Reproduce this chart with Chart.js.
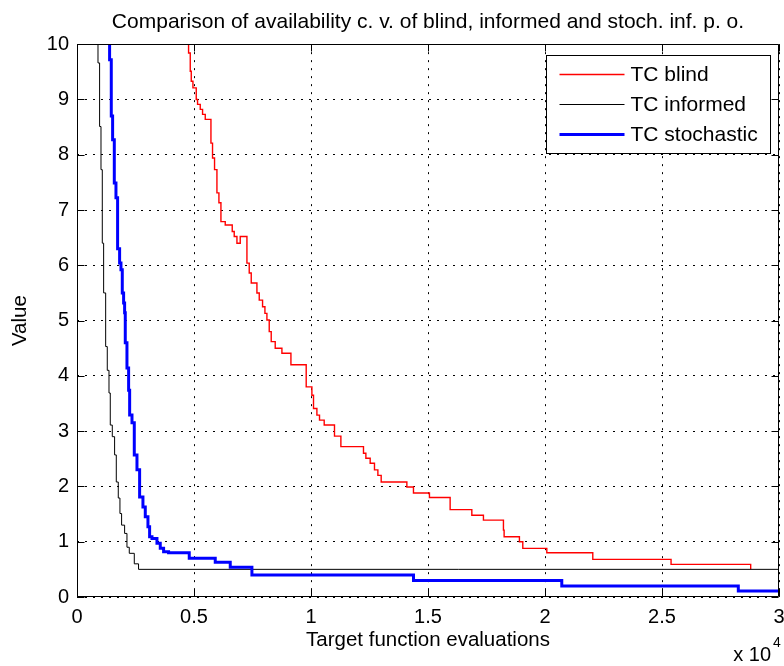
<!DOCTYPE html>
<html>
<head>
<meta charset="utf-8">
<title>Comparison of availability c. v.</title>
<script src="https://cdn.jsdelivr.net/npm/chart.js@4.4.1/dist/chart.umd.min.js"></script>
<style>
  body { margin: 0; background: #fff; }
  canvas { display: block; }
</style>
</head>
<body>
<canvas id="chart" width="784" height="666"></canvas>
<script>
// Step points: at x the curve drops (or rises) to y
const blindX = [4768, 4768, 4840, 4883, 4955, 5096, 5152, 5267, 5366, 5481, 5724, 5792, 5878, 5980, 6065,
    6151, 6335, 6634, 6719, 6835, 6976, 7262, 7360, 7446, 7689, 7788, 7930, 8031, 8116, 8215,
    8300, 8471, 8757, 9142, 9795, 10038, 10107, 10252, 10364, 10564, 11004, 11277, 12243, 12345, 12529,
    12713, 12858, 12999, 14097, 14379, 15062, 15946, 16873, 17369, 18224, 18253, 18907, 19051, 20077, 22042,
    25387, 28790];
const blindY = [10.5, 9.84, 9.51, 9.33, 9.21, 9.0, 8.91, 8.82, 8.73, 8.64, 8.21, 7.94, 7.73, 7.31, 7.13,
    6.79, 6.73, 6.61, 6.52, 6.4, 6.52, 6.04, 5.86, 5.68, 5.5, 5.37, 5.25, 5.13, 5.01, 4.8,
    4.62, 4.5, 4.41, 4.2, 3.8, 3.65, 3.41, 3.29, 3.2, 3.11, 2.91, 2.72, 2.6, 2.51, 2.42,
    2.3, 2.2, 2.08, 1.99, 1.88, 1.8, 1.58, 1.48, 1.39, 1.21, 1.09, 1.0, 0.88, 0.8, 0.68,
    0.59, 0.5];

const informedX = [897, 897, 966, 1025, 1081, 1138, 1225, 1294, 1367, 1422, 1508, 1607, 1679, 1764, 1835,
    1906, 2035, 2135, 2234, 2448, 2630, 30000];
const informedY = [10.5, 9.66, 8.51, 7.73, 6.4, 5.5, 4.53, 4.1, 3.69, 3.11, 2.9, 2.57, 2.08, 1.79, 1.51,
    1.3, 1.15, 0.9, 0.79, 0.6, 0.5, 0.5];

const stochX = [1393, 1393, 1465, 1522, 1594, 1665, 1735, 1821, 1879, 1935, 1992, 2035, 2063, 2135, 2206,
    2250, 2350, 2448, 2563, 2676, 2818, 2918, 3032, 3103, 3204, 3417, 3558, 3701, 3913, 4797,
    5908, 6549, 7475, 14380, 20717, 28261, 30000];
const stochY = [10.5, 9.72, 8.7, 8.27, 7.49, 7.22, 6.3, 6.04, 5.92, 5.5, 5.32, 5.14, 4.6, 4.14, 3.74,
    3.29, 3.15, 2.57, 2.3, 1.81, 1.63, 1.45, 1.27, 1.09, 1.06, 0.97, 0.88, 0.82, 0.8, 0.7,
    0.63, 0.54, 0.4, 0.3, 0.2, 0.11, 0.11];

const seriesLabels = ['TC blind', 'TC informed', 'TC stochastic'];
const xTickLabels = ['0', '0.5', '1', '1.5', '2', '2.5', '3'];
const yTickLabels = ['0', '1', '2', '3', '4', '5', '6', '7', '8', '9', '10'];

const FONT = '"Liberation Sans", Arial, Helvetica, sans-serif';

function toPoints(xs, ys) {
    return xs.map((x, i) => ({ x: x, y: ys[i] }));
}

// Box, inward tick marks, exponent and legend, MATLAB style
const framePlugin = {
    id: 'frame',
    afterDatasetsDraw(chart) {
        const { ctx, chartArea: a, scales } = chart;
        const L = Math.round(a.left) + 0.5, R = Math.round(a.right) - 0.5;
        const T = Math.round(a.top) + 0.5, B = Math.round(a.bottom) - 0.5;
        const tl = 7;
        ctx.save();
        ctx.strokeStyle = '#000';
        ctx.lineWidth = 1;
        ctx.setLineDash([]);
        ctx.beginPath();
        ctx.rect(L, T, R - L, B - T);
        scales.x.ticks.forEach(t => {
            const px = Math.round(scales.x.getPixelForValue(t.value)) + 0.5;
            ctx.moveTo(px, B); ctx.lineTo(px, B - tl);
            ctx.moveTo(px, T); ctx.lineTo(px, T + tl);
        });
        scales.y.ticks.forEach(t => {
            const py = Math.round(scales.y.getPixelForValue(t.value)) + 0.5;
            ctx.moveTo(L, py); ctx.lineTo(L + tl, py);
            ctx.moveTo(R, py); ctx.lineTo(R - tl, py);
        });
        ctx.stroke();

        // x 10^4
        ctx.fillStyle = '#000';
        ctx.font = '20px ' + FONT;
        ctx.textAlign = 'right';
        ctx.textBaseline = 'middle';
        ctx.fillText('x 10', a.right - 8, 655);
        ctx.font = '14px ' + FONT;
        ctx.textAlign = 'left';
        ctx.fillText('4', a.right - 6, 643);

        // legend box
        const bw = 224, bh = 98;
        const bx = Math.round(a.right - 9 - bw) + 0.5, by = Math.round(a.top + 11) + 0.5;
        ctx.fillStyle = '#fff';
        ctx.fillRect(bx, by, bw, bh);
        ctx.strokeRect(bx, by, bw, bh);
        chart.data.datasets.forEach((ds, i) => {
            const ry = by + 19 + i * 30;
            ctx.beginPath();
            ctx.strokeStyle = ds.borderColor;
            ctx.lineWidth = ds.borderWidth;
            ctx.moveTo(bx + 13, ry);
            ctx.lineTo(bx + 78, ry);
            ctx.stroke();
            ctx.fillStyle = '#000';
            ctx.font = '21px ' + FONT;
            ctx.textAlign = 'left';
            ctx.textBaseline = 'middle';
            ctx.fillText(ds.label, bx + 84, ry + 1);
        });
        ctx.restore();
    }
};

const ctx = document.getElementById('chart').getContext('2d');
new Chart(ctx, {
    type: 'line',
    data: {
        datasets: [
            { label: seriesLabels[0], data: toPoints(blindX, blindY), borderColor: '#ff0000', borderWidth: 1.4, order: 2 },
            { label: seriesLabels[1], data: toPoints(informedX, informedY), borderColor: '#000000', borderWidth: 1, order: 1 },
            { label: seriesLabels[2], data: toPoints(stochX, stochY), borderColor: '#0000ff', borderWidth: 3, order: 0 }
        ]
    },
    options: {
        responsive: false,
        animation: false,
        devicePixelRatio: 1,
        layout: { padding: { left: 0, right: 5, top: 0, bottom: 0 } },
        elements: {
            point: { radius: 0 },
            line: { stepped: 'before', tension: 0, fill: false }
        },
        plugins: {
            legend: { display: false },
            tooltip: { enabled: false },
            title: {
                display: true,
                fullSize: false,
                text: 'Comparison of availability c. v. of blind, informed and stoch. inf. p. o.',
                color: '#000',
                font: { family: FONT, size: 21, weight: 'normal', lineHeight: 1.15 },
                padding: { top: 10, bottom: 10 }
            }
        },
        scales: {
            x: {
                type: 'linear',
                min: 0,
                max: 30000,
                afterFit(scale) {
                    scale.height = 69;
                    scale.paddingLeft = 0;
                    scale.paddingRight = 0;
                },
                ticks: {
                    stepSize: 5000,
                    autoSkip: false,
                    maxRotation: 0,
                    padding: 8,
                    color: '#000',
                    font: { family: FONT, size: 20 },
                    callback: (v) => xTickLabels[Math.round(v / 5000)]
                },
                grid: { color: '#000', lineWidth: 1, drawTicks: false },
                border: { display: false, dash: [2, 6] },
                title: {
                    display: true,
                    text: 'Target function evaluations',
                    color: '#000',
                    font: { family: FONT, size: 20.5, lineHeight: 1.2 },
                    padding: { top: 0, bottom: 13 }
                }
            },
            y: {
                min: 0,
                max: 10,
                afterFit(scale) {
                    scale.width = 77;
                    scale.paddingTop = 0;
                    scale.paddingBottom = 0;
                },
                ticks: {
                    stepSize: 1,
                    padding: 8,
                    color: '#000',
                    font: { family: FONT, size: 20 },
                    callback: (v) => yTickLabels[Math.round(v)]
                },
                grid: { color: '#000', lineWidth: 1, drawTicks: false },
                border: { display: false, dash: [2, 6] },
                title: {
                    display: true,
                    text: 'Value',
                    color: '#000',
                    font: { family: FONT, size: 20.5, lineHeight: 1.2 },
                    padding: { top: 8, bottom: 0 }
                }
            }
        }
    },
    plugins: [framePlugin]
});
</script>
</body>
</html>
